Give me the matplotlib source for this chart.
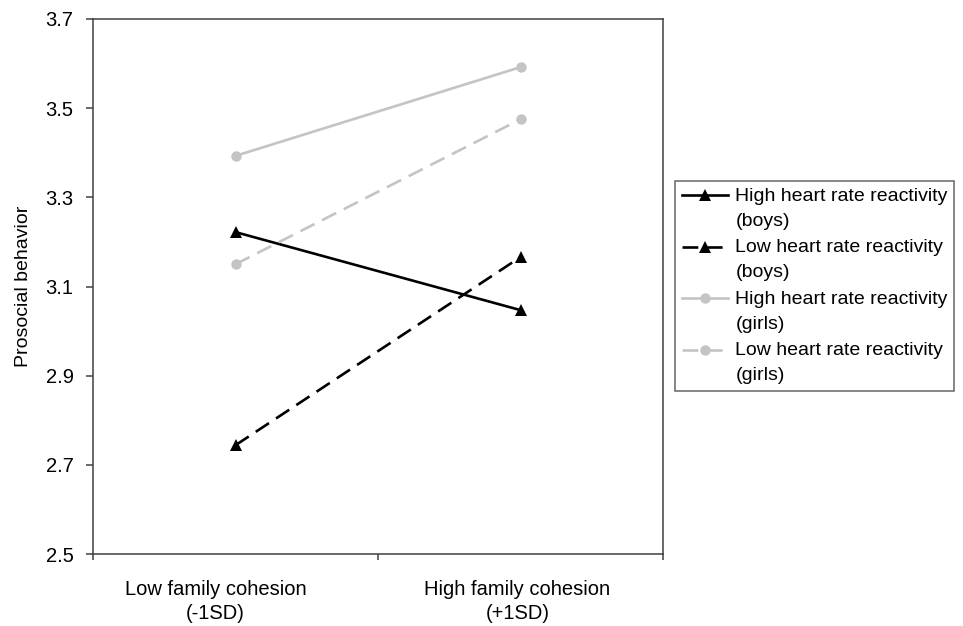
import matplotlib
matplotlib.use("Agg")
import matplotlib.pyplot as plt
from matplotlib.transforms import ScaledTranslation
from matplotlib.legend_handler import HandlerLine2D

plt.rcParams['font.family'] = ['Liberation Sans', 'DejaVu Sans']

categories = ["Low family cohesion\n(-1SD)", "High family cohesion\n(+1SD)"]
series_names = ["High heart rate reactivity\n(boys)",
                "Low heart rate reactivity\n(boys)",
                "High heart rate reactivity\n(girls)",
                "Low heart rate reactivity\n(girls)"]
high_hr_boys = [3.222, 3.047]
low_hr_boys = [2.744, 3.166]
high_hr_girls = [3.393, 3.592]
low_hr_girls = [3.150, 3.475]
yticks = [2.5, 2.7, 2.9, 3.1, 3.3, 3.5, 3.7]

fig = plt.figure(figsize=(9.63, 6.26), dpi=100)
ax = fig.add_axes([93/963, 1-554/626, (663-93)/963, (554-19)/626])

xpos = [0.5, 1.5]
black = "#000000"
gray = "#c4c4c4"
lw = 1.9
styles = [
    dict(color=black, marker='^', ms=8.5, ls='-'),
    dict(color=black, marker='^', ms=8.5, ls=(0, (6, 3.2))),
    dict(color=gray, marker='o', ms=7.5, ls='-'),
    dict(color=gray, marker='o', ms=7.5, ls=(0, (6, 3.2))),
]
data = [high_hr_boys, low_hr_boys, high_hr_girls, low_hr_girls]
for vals, name, st in zip(data, series_names, styles):
    ax.plot(xpos, vals, lw=lw, label=name, color=st['color'], marker=st['marker'],
            markersize=st['ms'], linestyle=st['ls'], markeredgewidth=0)

ax.set_xlim(0, 2)
ax.set_ylim(2.5, 3.7)
ax.set_yticks(yticks)
ax.set_yticklabels([f"{v:.1f}" for v in yticks])
ax.set_xticks([0, 1, 2])
ax.set_xticklabels([])
ax.set_xticks(xpos, minor=True)
ax.set_xticklabels(categories, minor=True, linespacing=1.3)
ax.tick_params(axis='x', which='minor', length=0, pad=19, labelsize=14.5)
ax.tick_params(axis='x', which='major', length=4, width=1.1, direction='out', color='#404040')
ax.tick_params(axis='y', length=5, width=1.1, direction='out', pad=9, labelsize=14.5, color='#404040')

offsets = [-20, -3]
for lab, dx in zip(ax.get_xticklabels(minor=True), offsets):
    lab.set_transform(lab.get_transform() + ScaledTranslation(dx/100, 0, fig.dpi_scale_trans))

for s in ax.spines.values():
    s.set_color('#404040')
    s.set_linewidth(1.1)

ax.set_ylabel("Prosocial behavior", fontsize=14, labelpad=10)


class TopLineHandler(HandlerLine2D):
    """Place the legend handle level with the first text line."""
    def __init__(self, dy, **kw):
        super().__init__(**kw)
        self.dy = dy

    def create_artists(self, legend, orig_handle, xdescent, ydescent, width,
                       height, fontsize, trans):
        arts = super().create_artists(legend, orig_handle, xdescent, ydescent,
                                      width, height, fontsize, trans)
        for a in arts:
            yd = a.get_ydata()
            a.set_ydata([y + self.dy for y in yd])
        return arts


handles, labels = ax.get_legend_handles_labels()
leg = fig.legend(handles, labels, loc='upper left', bbox_to_anchor=(675/963, 1-181/626),
                 fontsize=14, frameon=True, fancybox=False, edgecolor='#404040',
                 borderaxespad=0, handlelength=2.4, labelspacing=0.5,
                 handletextpad=0.35, borderpad=0.35,
                 handler_map={h: TopLineHandler(9.5) for h in handles})
leg.get_frame().set_linewidth(1.1)
for t in leg.get_texts():
    t.set_linespacing(1.6)

fig.savefig("out.png", dpi=100)
